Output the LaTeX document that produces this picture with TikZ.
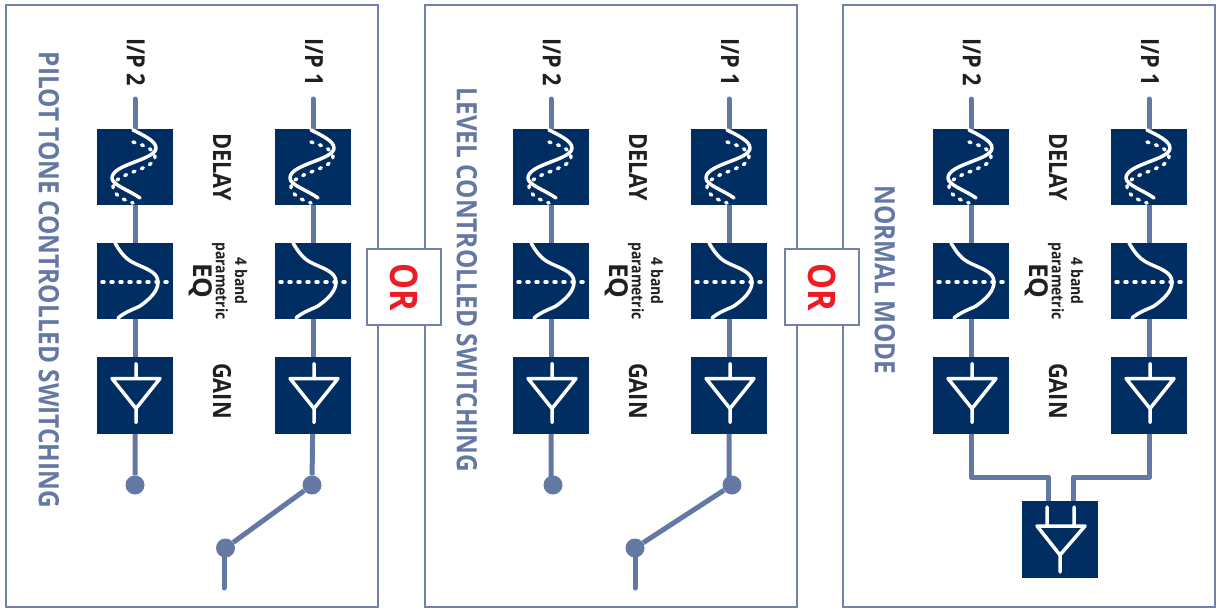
\documentclass[tikz,border=0pt]{standalone}
\usepackage{fontspec}
\newfontfamily\labelfont[FakeStretch=0.87]{Open Sans Bold}
\newfontfamily\eqfont{Open Sans Bold}
\newfontfamily\orfont[FakeStretch=0.86]{Open Sans Bold}
\usetikzlibrary{positioning}
\usetikzlibrary{calc}
\definecolor{navyblock}{HTML}{002D62}
\definecolor{wireblue}{HTML}{6478A4}
\definecolor{panelblue}{HTML}{7082AA}
\definecolor{orred}{HTML}{ED1C24}
\definecolor{labelblack}{HTML}{231F20}
\tikzset{
    panel/.style = {rectangle,draw=panelblue,line width=2pt,minimum width=372pt,minimum height=602pt},
    block/.style = {rectangle,fill=navyblock,inner sep=0pt,minimum width=76pt,minimum height=76.5pt},
    wire/.style = {draw=wireblue,line width=5pt},
    termdot/.style = {circle,fill=wireblue,inner sep=0pt,minimum size=19pt},
    orbox/.style = {rectangle,draw=panelblue,fill=white,line width=1.5pt,minimum width=74pt,minimum height=76pt},
    ortext/.style = {rotate=-90,text=orred,font=\orfont\fontsize{38}{38}\selectfont},
    icon/.style = {draw=white,line width=3.5pt,line cap=round,line join=round},
    icondots/.style = {icon,line width=3.5pt,dash pattern=on 2pt off 7pt},
    paneltitle/.style = {rotate=-90,text=wireblue,font=\labelfont\fontsize{28}{28}\selectfont},
    blocklabel/.style = {rotate=-90,text=labelblack,font=\labelfont\fontsize{25}{25}\selectfont},
    eqlabel/.style = {rotate=-90,text=labelblack,font=\eqfont\fontsize{26}{26}\selectfont},
    smalllabel/.style = {rotate=-90,text=labelblack,font=\labelfont\fontsize{16}{16}\selectfont},
    delayicon/.pic = {
        \draw[icon] (-2,-37) .. controls (8,-32) and (21,-26) .. (21,-19) .. controls (21,-7) and (-23,-3) .. (-23,11) .. controls (-23,18) and (-6,23) .. (5,31);
        \draw[icondots] (-2,-25) .. controls (8,-22) and (20,-18) .. (20,-10) .. controls (20,3) and (-22,6) .. (-22,20) .. controls (-22,27) and (-12,33) .. (-2,36);
    },
    eqicon/.pic = {
        \draw[icondots] (-33,1) -- (33,1);
        \draw[icon] (-20,-38) .. controls (-14,-28) and (-10,-23) .. (-3,-19) .. controls (8,-13) and (23,-10) .. (23,1) .. controls (23,10) and (15,18) .. (5,25) .. controls (-3,29) and (-10,31) .. (-17,37);
    },
    gainicon/.pic = {
        \draw[icon] (1,-32) -- (1,-17) (-23,-17) -- (25,-17) -- (1,13) -- cycle (1,13) -- (1,27);
    }}
% one input channel: delay, EQ and gain blocks
\newcommand{\chanstrip}[3]{
    \path (#2,167) node[block] (#1delay) {}
    ++ (0,114) node[block] (#1eq) {}
    ++ (0,114.5) node[block] (#1gain) {};
    \path (#2,99) coordinate (#1in)
    + (1,-37) node[blocklabel] (#1label) {#3};
    \draw[wire,line cap=round] (#1in) -- (#1delay);
    \draw[wire] (#1delay) -- (#1eq) (#1eq) -- (#1gain);
    \path (#1delay) pic {delayicon} (#1eq) pic {eqicon} (#1gain) pic {gainicon};
}
% the labels between the two channels of a panel
\newcommand{\stagelabels}[2]{
    \node[blocklabel] (#1d) at (#2+1,167) {DELAY};
    \node[smalllabel] (#1b) at (#2+20,281) {4 band};
    \node[smalllabel] (#1p) at (#2-1,281) {parametric};
    \node[eqlabel] (#1q) at (#2-20,281) {EQ};
    \node[blocklabel] (#1g) at (#2+1,391) {GAIN};
}
\begin{document}
\begin{tikzpicture}[x=1pt,y=-1pt]
    \useasboundingbox (0,0) rectangle (1220,608);
    \node[panel] (pilotpanel) at (192,306) {};
    \node[panel] (levelpanel) at (611,306) {};
    \node[panel] (normalpanel) at (1029,306) {};
    \node[orbox] (orA) at (404,287) {};
    \node[orbox] (orB) at (822,287) {};
    \node[ortext] (orAtext) at (orA) {OR};
    \node[ortext] (orBtext) at (orB) {OR};
    \node[paneltitle] (pilottitle) at (49,280) {PILOT TONE CONTROLLED SWITCHING};
    \node[paneltitle] (leveltitle) at (467,280) {LEVEL CONTROLLED SWITCHING};
    \node[paneltitle] (normaltitle) at (885,280) {NORMAL MODE};
    % pilot tone
    \chanstrip{pa}{135}{I/P 2}
    \chanstrip{pb}{313}{I/P 1}
    \stagelabels{pl}{221}
    \path (135,485) node[termdot] (padot) {}
    (312,485) node[termdot] (pbdot) {}
    (225.5,548) node[termdot] (pswitch) {}
    + (-1.5,40) coordinate (pout);
    \draw[wire] (pagain) -- (padot) (pbgain) -- (pbdot) (pbdot) -- (pswitch);
    \draw[wire,line cap=round] ($(pswitch)+(-1.5,0)$) -- (pout);
    % level
    \chanstrip{la}{551}{I/P 2}
    \chanstrip{lb}{729}{I/P 1}
    \stagelabels{ll}{637}
    \path (553,485) node[termdot] (ladot) {}
    (732,485) node[termdot] (lbdot) {}
    (635,548) node[termdot] (lswitch) {}
    + (0,40) coordinate (lout);
    \draw[wire] (lagain) -- ($(ladot)+(-2,0)$) (lbgain) -- ($(lbdot)+(-3,0)$) (lbdot) -- (lswitch);
    \draw[wire,line cap=round] (lswitch) -- (lout);
    % normal
    \chanstrip{na}{971}{I/P 2}
    \chanstrip{nb}{1149}{I/P 1}
    \stagelabels{nl}{1057}
    \node[block] (sumblock) at (1060,539.5) {};
    \coordinate (sumA) at ($(sumblock.north)+(-12,0)$);
    \coordinate (sumB) at ($(sumblock.north)+(13,0)$);
    \draw[wire,line join=round] (nagain) |- (1048,477) -- (sumA);
    \draw[wire,line join=round] (nbgain) |- (1073,477) -- (sumB);
    \draw[icon] (1047,507) -- (1047,526) (1074,507) -- (1074,526) (1037,526) -- (1085,526) -- (1060,555) -- cycle (1060,555) -- (1060,572);
\end{tikzpicture}
\end{document}
